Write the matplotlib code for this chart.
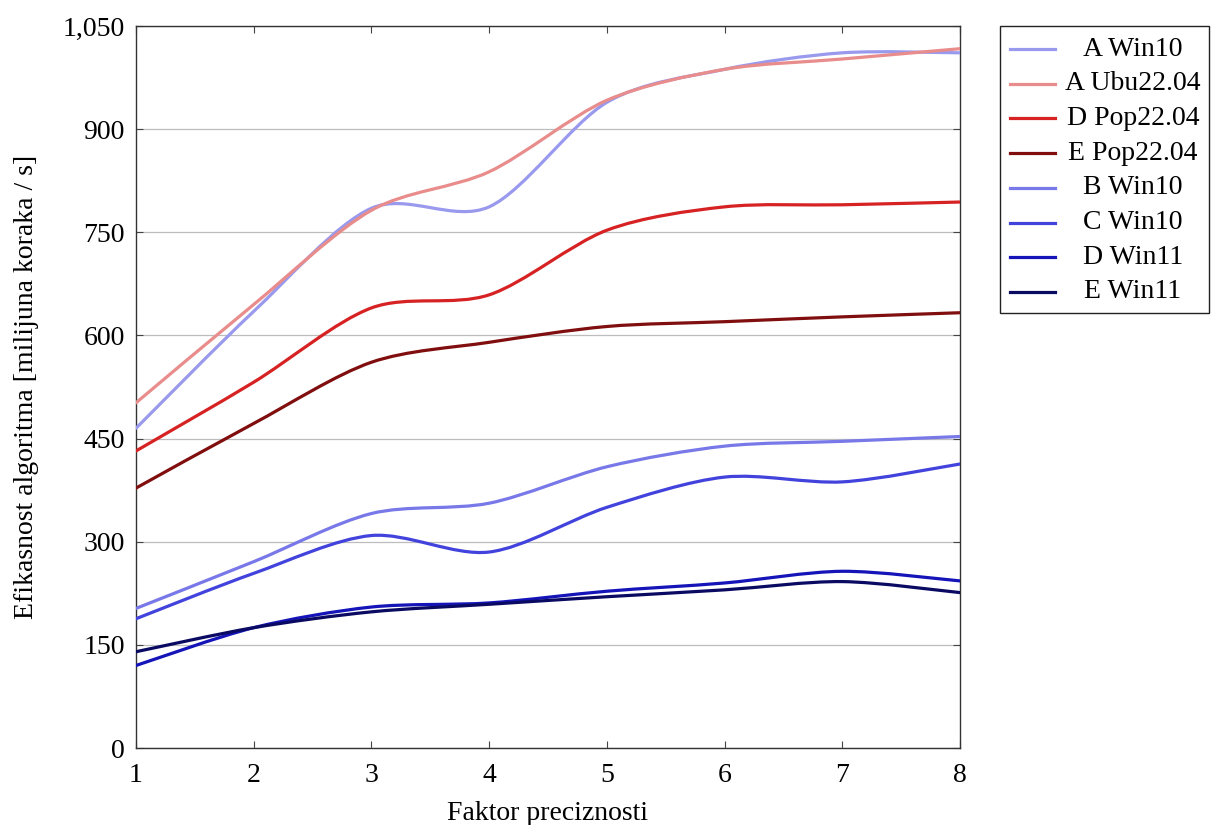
import matplotlib
matplotlib.use("Agg")
import matplotlib.pyplot as plt
from matplotlib.path import Path
from matplotlib.patches import PathPatch, Rectangle
from matplotlib.lines import Line2D
from matplotlib.ticker import FuncFormatter, FixedLocator

plt.rcParams['font.family'] = ['Liberation Serif', 'DejaVu Serif']

x_values = [1, 2, 3, 4, 5, 6, 7, 8]
series_labels = ["A Win10", "A Ubu22.04", "D Pop22.04", "E Pop22.04",
                 "B Win10", "C Win10", "D Win11", "E Win11"]
a_win10 = [465, 635, 785, 787, 939, 987, 1011, 1011]
a_ubu2204 = [502, 645, 782, 838, 942, 987, 1002, 1017]
d_pop2204 = [432, 532, 640, 659, 753, 787, 790, 794]
e_pop2204 = [378, 472, 561, 590, 613, 620, 627, 633]
b_win10 = [203, 271, 341, 356, 409, 439, 446, 453]
c_win10 = [188, 254, 309, 285, 350, 394, 387, 413]
d_win11 = [120, 175, 205, 211, 228, 240, 257, 243]
e_win11 = [140, 175, 198, 209, 220, 230, 242, 226]
series_values = [a_win10, a_ubu2204, d_pop2204, e_pop2204,
                 b_win10, c_win10, d_win11, e_win11]
series_colors = ["#9999ee", "#e88c8c", "#d62222", "#800e0e",
                 "#7878e8", "#4242dc", "#1414b8", "#0a0a62"]
y_ticks = [0, 150, 300, 450, 600, 750, 900, 1050]

FS = 20
W, H = 1211, 825
fig = plt.figure(figsize=(W / 100, H / 100), dpi=100)
ax = fig.add_axes([136 / W, 1 - 748 / H, (960 - 136) / W, (748 - 26) / H])


def smooth_path(xs, ys, f=0.15):
    pts = list(zip(xs, ys))
    n = len(pts)
    verts = [pts[0]]
    codes = [Path.MOVETO]
    for i in range(n - 1):
        p0 = pts[i - 1] if i > 0 else pts[i]
        p1 = pts[i]
        p2 = pts[i + 1]
        p3 = pts[i + 2] if i + 2 < n else pts[i + 1]
        c1 = (p1[0] + f * (p2[0] - p0[0]), p1[1] + f * (p2[1] - p0[1]))
        c2 = (p2[0] - f * (p3[0] - p1[0]), p2[1] - f * (p3[1] - p1[1]))
        verts += [c1, c2, p2]
        codes += [Path.CURVE4] * 3
    return Path(verts, codes)


for vals, col in zip(series_values, series_colors):
    patch = PathPatch(smooth_path(x_values, vals), facecolor='none',
                      edgecolor=col, lw=2.3, capstyle='round',
                      joinstyle='round', zorder=3)
    ax.add_patch(patch)

ax.set_xlim(1, 8)
ax.set_ylim(0, 1050)
ax.xaxis.set_major_locator(FixedLocator(x_values))
ax.yaxis.set_major_locator(FixedLocator(y_ticks))
ax.yaxis.set_major_formatter(FuncFormatter(lambda v, p: f"{int(v):,}"))
ax.grid(axis='y', color='#bdbdbd', lw=0.9)
ax.set_axisbelow(True)
ax.tick_params(direction='in', top=True, right=True, length=5, width=0.8,
               color='#444444', labelsize=FS)
ax.tick_params(axis='y', pad=8)
ax.tick_params(axis='x', pad=11)
for s in ax.spines.values():
    s.set_color('#333333')
    s.set_linewidth(1.0)
ax.set_xlabel("Faktor preciznosti", fontsize=FS, labelpad=9)
ax.set_ylabel("Efikasnost algoritma [milijuna koraka / s]", fontsize=FS,
              labelpad=17)


def fx(px):
    return px / W


def fy(py):
    return 1 - py / H


fig.patches.append(Rectangle((fx(1000), fy(313)), fx(1209) - fx(1000),
                             fy(26) - fy(313), transform=fig.transFigure,
                             facecolor='white', edgecolor='#222222', lw=1.0))
row_y0, row_dy = 49, 34.7
for i, (lab, col) in enumerate(zip(series_labels, series_colors)):
    yy = row_y0 + i * row_dy
    fig.lines.append(Line2D([fx(1010), fx(1055)], [fy(yy), fy(yy)],
                            transform=fig.transFigure, color=col, lw=2.3))
    fig.text(fx(1133), fy(yy), lab, ha='center', va='center', fontsize=FS)

fig.savefig("out.png", dpi=100)
